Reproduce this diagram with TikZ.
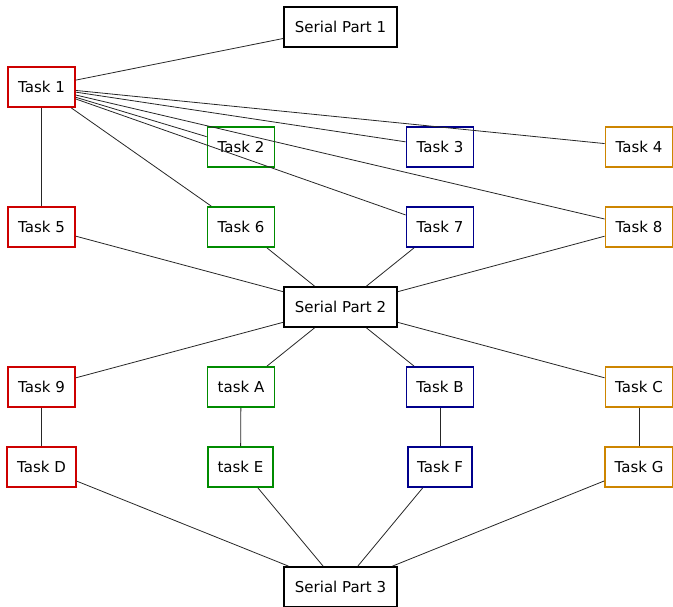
\documentclass[tikz,border=0pt]{standalone}
\usepackage{fontspec}
\setmainfont{DejaVu Sans}
\definecolor{cred}{HTML}{CD0000}
\definecolor{cgreen}{HTML}{008B00}
\definecolor{cblue}{HTML}{00008B}
\definecolor{corange}{HTML}{CD8500}
\begin{document}
\begin{tikzpicture}[x=1pt,y=-1pt,
  box/.style={draw, rectangle, line width=1.8pt, minimum height=40pt,
    inner sep=0pt, font=\fontsize{15}{17}\selectfont},
  task/.style={box, minimum width=67pt},
  serial/.style={box, draw=black, minimum width=113pt},
  link/.style={draw=black!85, line width=0.8pt}]
\useasboundingbox (0,0) rectangle (673,606);

% nodes
\node[serial] (s1) at (340.5,27) {Serial Part 1};
\node[serial] (s2) at (340.5,307) {Serial Part 2};
\node[serial] (s3) at (340.5,587) {Serial Part 3};

\node[task,draw=cred]    (t1) at (41.5,87)  {Task 1};
\node[task,draw=cgreen]  (t2) at (241,147)  {Task 2};
\node[task,draw=cblue]   (t3) at (440,147)  {Task 3};
\node[task,draw=corange] (t4) at (639,147)  {Task 4};

\node[task,draw=cred]    (t5) at (41.5,227) {Task 5};
\node[task,draw=cgreen]  (t6) at (241,227)  {Task 6};
\node[task,draw=cblue]   (t7) at (440,227)  {Task 7};
\node[task,draw=corange] (t8) at (639,227)  {Task 8};

\node[task,draw=cred]    (t9) at (41.5,387) {Task 9};
\node[task,draw=cgreen]  (ta) at (241,387)  {task A};
\node[task,draw=cblue]   (tb) at (440,387)  {Task B};
\node[task,draw=corange] (tc) at (639,387)  {Task C};

\node[task,draw=cred,minimum width=69pt]    (td) at (41.5,467) {Task D};
\node[task,draw=cgreen,minimum width=65pt]  (te) at (240.5,467) {task E};
\node[task,draw=cblue,minimum width=64pt]   (tf) at (440,467)  {Task F};
\node[task,draw=corange,minimum width=68pt] (tg) at (639,467)  {Task G};

% connectors
\foreach \n in {s1,t2,t3,t4,t5,t6,t7,t8}
  \path[link] (t1) -- (\n);
\foreach \n in {t5,t6,t7,t8}
  \path[link] (\n) -- (s2);
\foreach \n in {t9,ta,tb,tc}
  \path[link] (s2) -- (\n);
\path[link] (t9) -- (td);
\path[link] (ta) -- (te);
\path[link] (tb) -- (tf);
\path[link] (tc) -- (tg);
\foreach \n in {td,te,tf,tg}
  \path[link] (\n) -- (s3);
\end{tikzpicture}
\end{document}
